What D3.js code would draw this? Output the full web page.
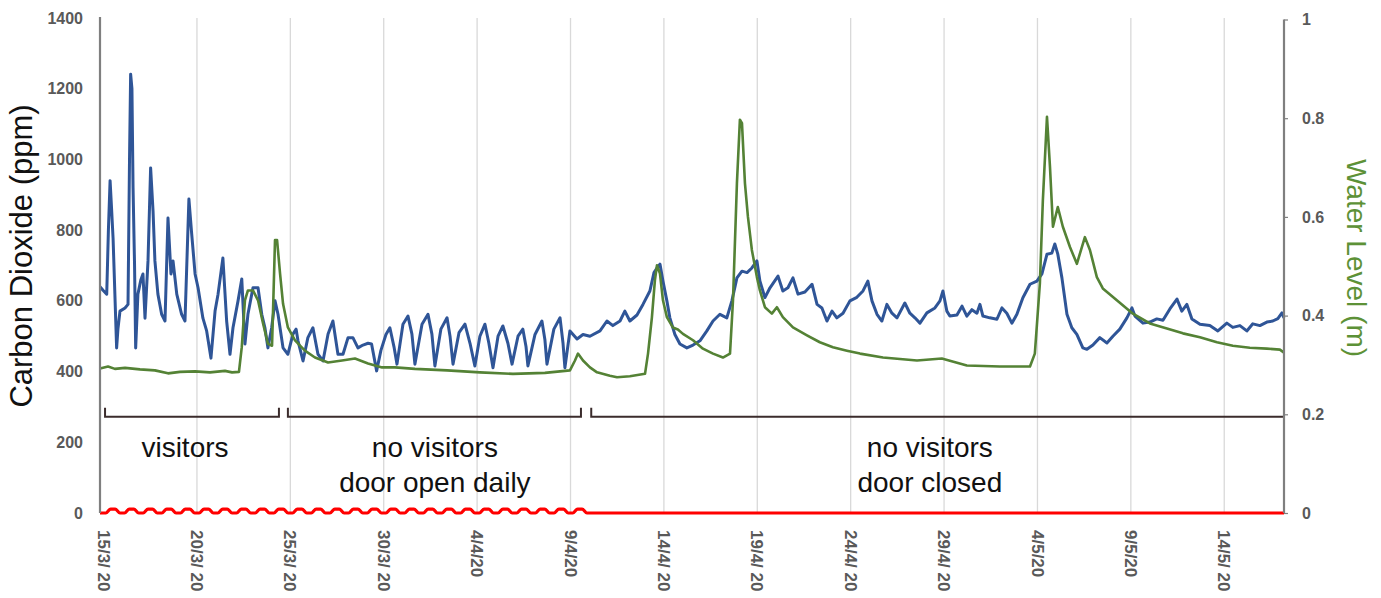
<!DOCTYPE html>
<html>
<head>
<meta charset="utf-8">
<script src="https://cdn.jsdelivr.net/npm/d3@7"></script>
<style>
  html, body { margin: 0; padding: 0; background: #ffffff; }
  svg { display: block; font-family: "Liberation Sans", Arial, Helvetica, sans-serif; }
</style>
</head>
<body>
<svg id="chart" width="1381" height="598"></svg>
<script>
// Cave monitoring record, March – May 2020.
// Series times are in days since the first logged sample (14/3/2020 19:26).

// Carbon dioxide (ppm): [day, ppm]
const co2 = [
  [0.00,640],[0.16,630],[0.36,619],[0.45,800],[0.54,940],[0.62,860],[0.70,777],[0.89,467],
  [0.96,520],[1.07,571],[1.34,580],[1.50,590],[1.58,1000],[1.64,1241],[1.71,1200],[1.77,919],
  [1.85,700],[1.91,467],[2.03,619],[2.19,660],[2.30,676],[2.41,551],[2.57,713],[2.71,976],
  [2.84,854],[2.94,713],[3.10,619],[3.30,562],[3.48,543],[3.64,834],[3.80,676],[3.91,713],
  [4.11,619],[4.37,562],[4.55,543],[4.76,888],[4.91,789],[5.09,676],[5.25,637],[5.51,551],
  [5.71,515],[5.94,438],[6.16,571],[6.32,619],[6.58,721],[6.78,543],[6.96,449],[7.12,524],
  [7.39,600],[7.59,662],[7.76,478],[7.92,562],[8.19,637],[8.46,637],[8.66,562],[8.83,524],
  [8.99,467],[9.19,524],[9.37,600],[9.53,562],[9.80,467],[10.06,449],[10.33,506],[10.50,520],
  [10.60,487],[10.87,430],[11.13,496],[11.40,524],[11.67,449],[11.94,430],[12.21,506],[12.47,543],
  [12.74,449],[13.01,449],[13.28,496],[13.54,496],[13.81,467],[14.08,475],[14.35,480],[14.54,478],
  [14.81,402],[15.04,460],[15.31,505],[15.52,524],[15.74,470],[15.90,421],[16.22,534],[16.49,557],
  [16.70,506],[16.86,421],[17.24,534],[17.56,562],[17.77,506],[17.93,416],[18.25,520],[18.58,552],
  [18.74,500],[18.90,421],[19.22,510],[19.54,534],[19.81,480],[20.07,416],[20.34,500],[20.61,534],
  [20.82,480],[21.04,411],[21.31,500],[21.57,529],[21.84,480],[22.06,421],[22.38,500],[22.64,520],
  [22.81,470],[22.91,416],[23.29,505],[23.66,543],[23.82,490],[23.93,421],[24.30,520],[24.63,552],
  [24.79,480],[24.89,411],[25.16,515],[25.54,492],[25.86,505],[26.23,500],[26.77,515],[27.14,543],
  [27.46,530],[27.84,543],[28.10,571],[28.37,543],[28.75,560],[29.07,590],[29.44,628],[29.66,680],
  [29.82,693],[29.98,704],[30.14,656],[30.35,600],[30.51,552],[30.78,505],[31.05,478],[31.42,467],
  [31.75,475],[32.12,487],[32.49,515],[32.82,543],[33.19,562],[33.56,552],[33.83,600],[34.10,665],
  [34.37,684],[34.64,680],[34.90,693],[35.17,713],[35.33,656],[35.60,609],[35.87,637],[36.30,670],
  [36.56,628],[36.83,637],[37.10,665],[37.37,619],[37.74,625],[38.12,647],[38.39,590],[38.65,580],
  [38.92,543],[39.19,571],[39.45,552],[39.78,565],[40.15,600],[40.52,610],[40.85,628],[41.11,656],
  [41.33,600],[41.60,562],[41.86,543],[42.13,590],[42.40,565],[42.67,552],[43.09,594],[43.36,565],
  [43.63,552],[43.90,537],[44.27,566],[44.70,580],[44.97,600],[45.13,628],[45.34,571],[45.50,557],
  [45.88,560],[46.15,585],[46.41,557],[46.68,575],[46.95,565],[47.11,590],[47.27,557],[47.64,552],
  [48.02,548],[48.29,580],[48.55,565],[48.82,537],[49.09,562],[49.41,609],[49.79,647],[50.16,656],
  [50.43,676],[50.70,732],[50.96,735],[51.12,761],[51.28,732],[51.50,665],[51.77,562],[52.03,524],
  [52.30,505],[52.62,467],[52.84,463],[53.16,475],[53.53,496],[53.91,481],[54.23,500],[54.60,520],
  [54.98,552],[55.25,580],[55.41,557],[55.84,537],[56.21,540],[56.58,549],[56.91,545],[57.28,577],
  [57.66,605],[57.92,571],[58.19,590],[58.46,549],[58.89,534],[59.42,530],[59.85,515],[60.33,537],
  [60.65,525],[61.03,530],[61.40,515],[61.72,535],[62.10,530],[62.47,540],[62.79,543],[63.06,550],
  [63.28,566],[63.39,552]
];

// Water level (m): [day, metres]
const waterLevel = [
  [0.00,0.293],[0.43,0.297],[0.80,0.292],[1.34,0.294],[2.14,0.291],[2.94,0.289],[3.64,0.283],
  [4.28,0.286],[5.09,0.287],[5.89,0.285],[6.69,0.288],[7.07,0.285],[7.44,0.286],[7.59,0.336],
  [7.76,0.431],[7.92,0.451],[8.19,0.451],[8.46,0.431],[8.73,0.384],[8.99,0.343],[9.21,0.339],
  [9.26,0.404],[9.37,0.553],[9.48,0.553],[9.64,0.485],[9.80,0.424],[10.06,0.376],[10.44,0.350],
  [10.97,0.329],[11.51,0.315],[12.21,0.305],[12.96,0.309],[13.65,0.313],[14.35,0.303],[15.10,0.295],
  [15.79,0.295],[16.86,0.292],[18.58,0.289],[20.34,0.285],[22.11,0.282],[23.82,0.284],[25.16,0.289],
  [25.43,0.309],[25.59,0.323],[25.86,0.309],[26.23,0.295],[26.61,0.285],[27.30,0.278],[27.68,0.275],
  [28.37,0.277],[29.18,0.282],[29.34,0.323],[29.55,0.397],[29.71,0.472],[29.82,0.502],[29.98,0.485],
  [30.14,0.431],[30.35,0.397],[30.67,0.376],[30.94,0.372],[31.21,0.363],[31.75,0.350],[32.28,0.333],
  [32.82,0.323],[33.35,0.315],[33.73,0.323],[33.89,0.431],[34.10,0.668],[34.26,0.797],[34.37,0.790],
  [34.53,0.668],[34.69,0.600],[34.90,0.533],[35.17,0.478],[35.33,0.451],[35.60,0.417],[35.97,0.404],
  [36.24,0.417],[36.56,0.397],[37.10,0.376],[37.85,0.360],[38.54,0.346],[39.24,0.336],[39.99,0.329],
  [40.69,0.323],[41.92,0.315],[43.74,0.309],[45.07,0.313],[46.41,0.299],[48.18,0.297],[49.79,0.297],
  [50.05,0.323],[50.32,0.465],[50.48,0.634],[50.70,0.803],[50.86,0.702],[51.02,0.580],[51.28,0.620],
  [51.55,0.580],[51.93,0.539],[52.30,0.505],[52.73,0.559],[53.00,0.533],[53.37,0.478],[53.69,0.455],
  [54.44,0.431],[55.30,0.404],[56.21,0.384],[57.12,0.374],[57.98,0.364],[58.89,0.356],[59.80,0.346],
  [60.65,0.339],[61.56,0.335],[62.47,0.333],[63.17,0.331],[63.39,0.325]
];
const lastDay = 63.39;

// Calendar days (since 15/3/2020) on which the cave door was opened
const doorOpenDays = [0,1,2,3,4,5,6,7,8,9,10,11,12,13,14,15,16,17,18,19,20,21,22,23,24,25];

// Date axis ticks (calendar days since 15/3/2020)
const tickDays   = [0,5,10,15,20,25,30,35,40,45,50,55,60];
const tickLabels = ["15/3/ 20","20/3/ 20","25/3/ 20","30/3/ 20","4/4/20","9/4/20","14/4/ 20",
                    "19/4/ 20","24/4/ 20","29/4/ 20","4/5/20","9/5/20","14/5/ 20"];
const co2Ticks   = [0,200,400,600,800,1000,1200,1400];
const levelTicks = [0,0.2,0.4,0.6,0.8,1];

// Study periods shown by the brackets (days since first sample)
const periodStart  = [0.27, 10.06, 26.30];
const periodEnd    = [9.58, 25.75, 63.39];
const periodLabelX = [4.55, 17.93, 44.43];
const periodLines  = [["visitors"], ["no visitors","door open daily"], ["no visitors","door closed"]];

// ---------------------------------------------------------------------------
const recordStart = Date.UTC(2020, 2, 14, 19, 26);
const calendarStart = Date.UTC(2020, 2, 15);
const atRecord = d => new Date(recordStart + d * 864e5);
const atCalendar = d => new Date(calendarStart + d * 864e5);

const svg = d3.select("#chart");
const plotLeft = 100, plotRight = 1284, plotTop = 18, plotBottom = 513;

const x = d3.scaleUtc().domain([atRecord(0), atRecord(lastDay)]).range([plotLeft, plotRight]);
const yCO2 = d3.scaleLinear().domain([0, 1400]).range([plotBottom, plotTop]);
const yLevel = d3.scaleLinear().domain([0, 1]).range([plotBottom, 19.5]);

const axisGrey = "#7f7f7f", labelGrey = "#595959";
const blue = "#2f5597", green = "#548235", red = "#ff0000";

// vertical gridlines at the date ticks
svg.append("g")
  .selectAll("line")
  .data(tickDays.slice(1))
  .join("line")
  .attr("x1", d => x(atCalendar(d))).attr("x2", d => x(atCalendar(d)))
  .attr("y1", plotTop).attr("y2", plotBottom)
  .attr("stroke", "#d9d9d9").attr("stroke-width", 1.3);

// period brackets
const bracketY = yLevel(0.195), bracketTick = 9;
const brackets = svg.append("g").attr("fill", "none").attr("stroke", "#3b2c2c").attr("stroke-width", 2);
periodStart.forEach((s, i) => {
  const x0 = x(atRecord(s)), x1 = x(atRecord(periodEnd[i]));
  brackets.append("path")
    .attr("d", `M${x0},${bracketY - bracketTick}V${bracketY}H${x1}V${bracketY - bracketTick}`);
});

// period labels
const labels = svg.append("g").attr("font-size", 28).attr("fill", "#111").attr("text-anchor", "middle");
periodLines.forEach((lines, i) => {
  lines.forEach((t, j) => {
    labels.append("text")
      .attr("x", x(atRecord(periodLabelX[i])))
      .attr("y", 457 + j * 35)
      .text(t);
  });
});

// CO2 series
const co2Line = d3.line()
  .x(d => x(atRecord(d[0])))
  .y(d => yCO2(d[1]));
svg.append("path")
  .datum(co2)
  .attr("fill", "none").attr("stroke", blue).attr("stroke-width", 3)
  .attr("stroke-linejoin", "round")
  .attr("d", co2Line);

// water level series
const levelLine = d3.line()
  .x(d => x(atRecord(d[0])))
  .y(d => yLevel(d[1]));
svg.append("path")
  .datum(waterLevel)
  .attr("fill", "none").attr("stroke", green).attr("stroke-width", 2.6)
  .attr("stroke-linejoin", "round")
  .attr("d", levelLine);

// door-open indicator: a small raised step on each day the door was opened
const doorRaise = 11; // ppm
const doorPts = [[atRecord(0), 0]];
doorOpenDays.forEach(d => {
  doorPts.push([atCalendar(d + 0.12), 0], [atCalendar(d + 0.38), doorRaise],
               [atCalendar(d + 0.62), doorRaise], [atCalendar(d + 0.88), 0]);
});
doorPts.push([atRecord(lastDay), 0]);
svg.append("path")
  .datum(doorPts)
  .attr("fill", "none").attr("stroke", red).attr("stroke-width", 3.2)
  .attr("d", d3.line().x(d => x(d[0])).y(d => yCO2(d[1])).curve(d3.curveMonotoneX));

// left axis
const gl = svg.append("g").attr("transform", `translate(${plotLeft},0)`)
  .call(d3.axisLeft(yCO2).tickValues(co2Ticks).tickSize(0).tickPadding(17).tickFormat(d3.format("d")));
gl.select(".domain").attr("stroke", axisGrey).attr("stroke-width", 2.2).attr("d", `M0,${plotTop - 1}V${plotBottom}`);
gl.selectAll("text").attr("font-size", 16).attr("font-weight", "bold").attr("fill", labelGrey)
  .attr("font-family", "'Liberation Sans', Arial, sans-serif");

// right axis
const gr = svg.append("g").attr("transform", `translate(${plotRight},0)`)
  .call(d3.axisRight(yLevel).tickValues(levelTicks).tickSize(4).tickPadding(14)
        .tickFormat(d => d === 0 || d === 1 ? String(d) : d3.format(".1f")(d)));
gr.select(".domain").attr("stroke", axisGrey).attr("stroke-width", 2.2).attr("d", `M0,${yLevel(1)}V${plotBottom}`);
gr.selectAll(".tick line").attr("stroke", axisGrey).attr("stroke-width", 1.2);
gr.selectAll("text").attr("font-size", 16).attr("font-weight", "bold").attr("fill", labelGrey)
  .attr("font-family", "'Liberation Sans', Arial, sans-serif");

// date labels, rotated to read downwards
svg.append("g")
  .selectAll("text")
  .data(tickDays)
  .join("text")
  .attr("transform", (d) => `translate(${x(atCalendar(d))},530) rotate(90)`)
  .attr("dy", "0.35em")
  .attr("font-size", 17).attr("font-weight", "bold").attr("fill", labelGrey)
  .text((d, i) => tickLabels[i]);

// axis titles
svg.append("text")
  .attr("transform", "translate(32,256) rotate(-90)")
  .attr("text-anchor", "middle")
  .attr("font-size", 31).attr("fill", "#111")
  .text("Carbon Dioxide (ppm)");

svg.append("text")
  .attr("transform", "translate(1347,258) rotate(90)")
  .attr("text-anchor", "middle")
  .attr("font-size", 28).attr("fill", "#5d9137")
  .text("Water Level (m)");
</script>
</body>
</html>
